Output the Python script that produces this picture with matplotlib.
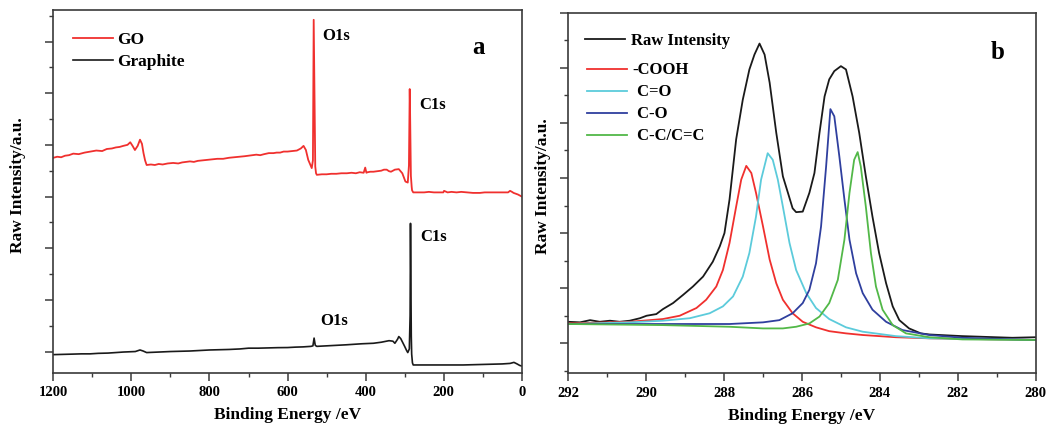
import matplotlib
matplotlib.use("Agg")
import matplotlib.pyplot as plt
from matplotlib.ticker import MultipleLocator

plt.rcParams['font.family'] = ['Liberation Serif', 'DejaVu Serif']
plt.rcParams['font.weight'] = 'bold'

# ---------------- Panel a : survey spectra ----------------
go_x = [1200, 1190, 1180, 1170, 1160, 1149, 1135, 1120, 1105, 1090, 1075, 1063, 1050, 1040, 1030, 1021, 1010, 1003,
        997, 991, 984, 978, 973, 969, 965, 961,
        950, 940, 930, 920, 907, 893, 880, 870, 860, 850, 840, 830, 818, 807, 795, 780, 765, 750, 736, 722, 710,
        700, 690, 680, 670, 660, 648, 636, 628, 619, 610, 600, 588, 576, 566, 559, 553, 547, 541, 538,
        535, 533, 531, 529, 527, 525, 512, 500, 488, 475, 462, 448, 436, 425, 415, 405, 401, 398, 395, 388, 380, 370,
        360, 353, 346, 340, 335, 330, 325, 315,
        306, 298, 292, 289, 287, 286, 284, 282, 281, 278, 265, 250, 238, 225, 212, 201, 199, 190, 180, 167, 155,
        140, 125, 107, 95, 80, 65, 50, 35, 30, 25, 21, 10, 0]
go_y = [3.75, 3.77, 3.76, 3.79, 3.80, 3.83, 3.82, 3.85, 3.87, 3.89, 3.88, 3.92, 3.93, 3.95, 3.96, 3.98, 4.00, 4.05,
        3.98, 3.90, 3.98, 4.10, 4.02, 3.84, 3.70, 3.61,
        3.62, 3.61, 3.63, 3.62, 3.64, 3.65, 3.64, 3.66, 3.67, 3.68, 3.67, 3.69, 3.70, 3.71, 3.72, 3.73, 3.73, 3.75, 3.76, 3.77, 3.78,
        3.79, 3.80, 3.81, 3.80, 3.82, 3.84, 3.84, 3.85, 3.85, 3.87, 3.87, 3.88, 3.89, 3.93, 3.98, 3.90, 3.71, 3.60, 3.55,
        3.70, 6.42, 5.00, 3.58, 3.45, 3.42, 3.43, 3.43, 3.44, 3.44, 3.45, 3.45, 3.46, 3.45, 3.47, 3.46, 3.56, 3.46, 3.47, 3.48, 3.48, 3.49,
        3.50, 3.52, 3.52, 3.49, 3.48, 3.50, 3.52, 3.53,
        3.45, 3.29, 3.27, 3.60, 5.08, 4.60, 3.40, 3.19, 3.12, 3.08, 3.08, 3.08, 3.09, 3.08, 3.08, 3.08, 3.11, 3.08, 3.09, 3.08, 3.09,
        3.08, 3.07, 3.07, 3.08, 3.08, 3.08, 3.08, 3.08, 3.11, 3.09, 3.07, 3.04, 3.00]

gr_x = [1200, 1175, 1150, 1128, 1106, 1085, 1060, 1040, 1021, 990, 978, 970, 961, 930, 900, 875, 850, 825, 800, 775, 750,
        722, 700, 675, 650, 625, 600, 580, 560, 540, 535,
        532, 529, 525, 500, 475, 450, 430, 410, 380, 360, 340, 330, 325, 318, 315, 310, 300, 295, 292, 288, 286, 285, 284,
        283, 282, 280, 278, 250, 200, 150, 100, 50, 30, 20, 12, 5, 0]
gr_y = [-0.06, -0.055, -0.05, -0.045, -0.045, -0.035, -0.03, -0.02, -0.01, 0.00, 0.03, 0.01, -0.02, -0.01, 0.00, 0.005, 0.01, 0.02, 0.03, 0.035, 0.04,
        0.05, 0.065, 0.065, 0.07, 0.075, 0.077, 0.085, 0.09, 0.10, 0.11,
        0.26, 0.12, 0.10, 0.11, 0.12, 0.13, 0.14, 0.15, 0.16, 0.18, 0.21, 0.20, 0.16, 0.24, 0.29, 0.25, 0.10, 0.02, -0.02, 0.05, 0.70, 2.48, 1.40,
        0.30, -0.05, -0.22, -0.26, -0.26, -0.26, -0.26, -0.25, -0.24, -0.23, -0.21, -0.24, -0.27, -0.28]

# ---------------- Panel b : C1s deconvolution ----------------
raw_x = [292.00, 291.70, 291.44, 291.19, 290.93, 290.68, 290.42, 290.16, 289.99, 289.74, 289.57, 289.31, 289.05,
         288.80, 288.54, 288.29, 288.11, 287.99, 287.86, 287.69, 287.52, 287.35, 287.22, 287.09, 286.96, 286.83,
         286.66, 286.49, 286.36, 286.24, 286.15, 285.98, 285.81, 285.68, 285.55, 285.42, 285.30, 285.17, 285.00,
         284.87, 284.70, 284.53, 284.36, 284.19, 284.02, 283.84, 283.67, 283.50, 283.25, 282.95, 282.73, 282.31,
         281.88, 281.45, 281.03, 280.60, 280.00]
raw_y = [0.39, 0.38, 0.42, 0.39, 0.41, 0.39, 0.41, 0.455, 0.50, 0.53, 0.62, 0.73, 0.88,
         1.03, 1.21, 1.48, 1.76, 2.00, 2.61, 3.70, 4.42, 4.97, 5.24, 5.44, 5.24, 4.73,
         3.82, 3.03, 2.73, 2.45, 2.38, 2.39, 2.73, 3.09, 3.82, 4.48, 4.79, 4.94, 5.03,
         4.97, 4.48, 3.82, 3.03, 2.30, 1.64, 1.09, 0.67, 0.42, 0.27, 0.18, 0.16, 0.145,
         0.13, 0.12, 0.11, 0.10, 0.11]

cooh_x = [292.00, 290.42, 289.57, 289.14, 288.71, 288.46, 288.20, 288.03, 287.86, 287.69, 287.56, 287.43, 287.30,
          287.18, 287.00, 286.83, 286.66, 286.49, 286.24, 285.98, 285.64, 285.30, 284.87, 284.44, 283.59, 282.73, 280.00]
cooh_y = [0.36, 0.39, 0.44, 0.50, 0.64, 0.79, 1.03, 1.33, 1.82, 2.48, 2.97, 3.22, 3.09,
          2.73, 2.12, 1.52, 1.09, 0.79, 0.545, 0.39, 0.29, 0.22, 0.18, 0.15, 0.11, 0.09, 0.06]

co_d_x = [292.00, 290.42, 289.57, 288.88, 288.37, 288.03, 287.77, 287.52, 287.35, 287.18, 287.05, 286.88, 286.75,
          286.62, 286.49, 286.32, 286.15, 285.89, 285.64, 285.30, 284.87, 284.44, 283.59, 282.73, 280.00]
co_d_y = [0.35, 0.38, 0.41, 0.455, 0.545, 0.67, 0.85, 1.21, 1.64, 2.30, 2.97, 3.45, 3.33,
          2.97, 2.48, 1.82, 1.33, 0.91, 0.64, 0.44, 0.29, 0.21, 0.13, 0.09, 0.06]

co_s_x = [292.00, 289.57, 287.86, 287.00, 286.58, 286.24, 285.98, 285.81, 285.64, 285.51, 285.38, 285.27, 285.17,
          285.04, 284.91, 284.78, 284.61, 284.44, 284.19, 283.84, 283.42, 282.73, 281.88, 280.00]
co_s_y = [0.35, 0.35, 0.35, 0.38, 0.42, 0.545, 0.73, 0.97, 1.45, 2.12, 3.21, 4.25, 4.12,
          3.39, 2.61, 1.88, 1.27, 0.91, 0.61, 0.39, 0.24, 0.15, 0.10, 0.06]

cc_x = [292.00, 289.57, 287.86, 287.00, 286.49, 286.15, 285.81, 285.55, 285.30, 285.08, 284.91, 284.78, 284.66,
        284.57, 284.49, 284.36, 284.23, 284.10, 283.93, 283.67, 283.33, 282.73, 281.88, 280.00]
cc_y = [0.35, 0.33, 0.30, 0.27, 0.27, 0.30, 0.36, 0.485, 0.73, 1.15, 1.88, 2.73, 3.33,
        3.47, 3.21, 2.48, 1.64, 1.03, 0.61, 0.33, 0.18, 0.11, 0.07, 0.06]

RED = '#f0302e'
CYAN = '#5ccbdb'
BLUE = '#2f3f9e'
GREEN = '#52b848'
BLACK = '#1a1a1a'
SPINE = '#3a3a3a'

fig = plt.figure(figsize=(10.46, 4.29), dpi=100)
axa = fig.add_axes([0.051, 0.1312, 0.4478, 0.8455])
axb = fig.add_axes([0.5433, 0.1298, 0.4468, 0.8406])


def style(ax):
    for s in ax.spines.values():
        s.set_color(SPINE)
        s.set_linewidth(1.2)
    ax.tick_params(which='major', direction='out', length=6, width=1.1, color=SPINE,
                   labelsize=10.5, pad=3.5)
    ax.tick_params(which='minor', direction='out', length=3, width=1.0, color=SPINE)
    ax.tick_params(axis='y', which='both', labelleft=False)
    ax.yaxis.set_major_locator(MultipleLocator(1))
    ax.yaxis.set_minor_locator(MultipleLocator(0.5))
    for lab in ax.get_xticklabels():
        lab.set_fontweight('bold')


# Panel a
axa.plot(go_x, go_y, color=RED, lw=1.3, label='GO')
axa.plot(gr_x, gr_y, color=BLACK, lw=1.2, label='Graphite')
axa.set_xlim(1200, 0)
axa.set_ylim(-0.41, 6.61)
axa.xaxis.set_major_locator(MultipleLocator(200))
axa.xaxis.set_minor_locator(MultipleLocator(100))
style(axa)
axa.set_xlabel('Binding Energy /eV', fontsize=12.5, fontweight='bold', labelpad=6)
axa.set_ylabel('Raw Intensity/a.u.', fontsize=12.5, fontweight='bold')
axa.yaxis.set_label_coords(-0.059, 0.517)
axa.legend(loc='upper left', bbox_to_anchor=(0.042, 0.94), frameon=False, fontsize=12.5,
           handlelength=2.3, handletextpad=0.25, labelspacing=0.32, borderpad=0, borderaxespad=0)
tk = dict(fontsize=12, fontweight='bold', va='center', ha='left')
axa.text(510, 6.11, 'O1s', **tk)
axa.text(262, 4.78, 'C1s', **tk)
axa.text(261, 2.21, 'C1s', **tk)
axa.text(516, 0.59, 'O1s', **tk)
axa.text(110, 5.88, 'a', fontsize=18, fontweight='bold', ha='center', va='center')

# Panel b
l_raw, = axb.plot(raw_x, raw_y, color=BLACK, lw=1.3, label='Raw Intensity')
l1, = axb.plot(cooh_x, cooh_y, color=RED, lw=1.3, label='-COOH')
l2, = axb.plot(co_d_x, co_d_y, color=CYAN, lw=1.3, label=' C=O')
l3, = axb.plot(co_s_x, co_s_y, color=BLUE, lw=1.3, label=' C-O')
l4, = axb.plot(cc_x, cc_y, color=GREEN, lw=1.3, label=' C-C/C=C')
axb.set_xlim(292, 280)
axb.set_ylim(-0.545, 6.0)
axb.xaxis.set_major_locator(MultipleLocator(2))
axb.xaxis.set_minor_locator(MultipleLocator(1))
style(axb)
axb.set_xlabel('Binding Energy /eV', fontsize=12.5, fontweight='bold', labelpad=6)
axb.set_ylabel('Raw Intensity/a.u.', fontsize=12.5, fontweight='bold')
axb.yaxis.set_label_coords(-0.036, 0.519)
leg1 = axb.legend(handles=[l_raw], loc='upper left', bbox_to_anchor=(0.036, 0.944), frameon=False,
                  fontsize=12, handlelength=2.4, handletextpad=0.35, borderpad=0, borderaxespad=0)
axb.add_artist(leg1)
axb.legend(handles=[l1, l2, l3, l4], loc='upper left', bbox_to_anchor=(0.040, 0.862), frameon=False,
           fontsize=12, handlelength=2.4, handletextpad=0.35, labelspacing=0.36, borderpad=0, borderaxespad=0)
axb.text(280.97, 5.28, 'b', fontsize=18, fontweight='bold', ha='center', va='center')

fig.savefig('out.png', dpi=100)
